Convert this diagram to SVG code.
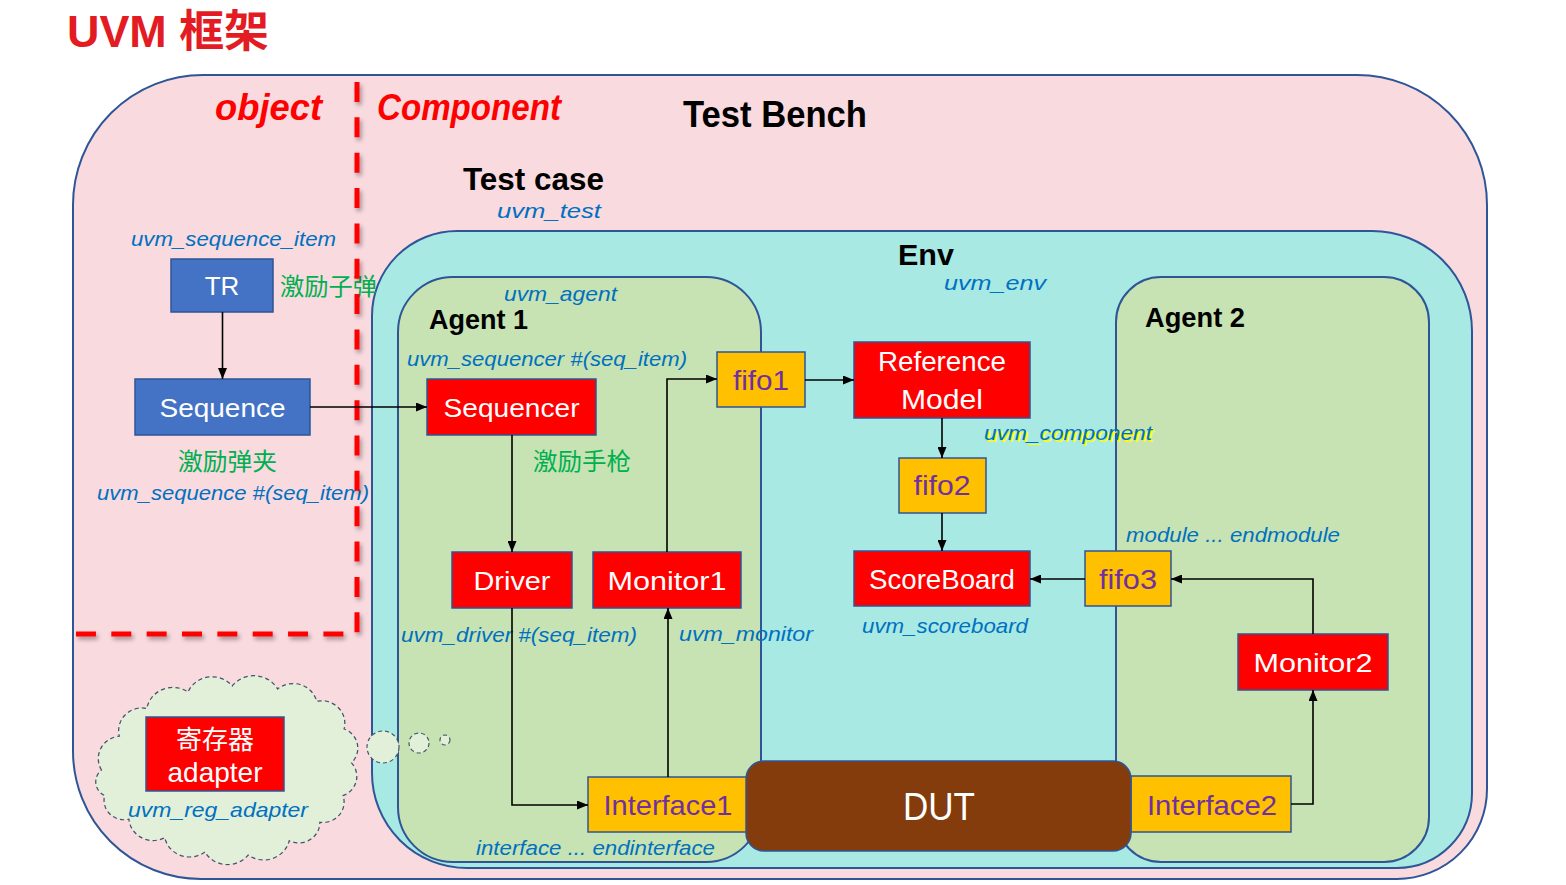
<svg xmlns="http://www.w3.org/2000/svg" width="1566" height="885" viewBox="0 0 1566 885">
<defs>
<style>
text{font-family:"Liberation Sans","Noto Sans CJK SC",sans-serif;}
.w{fill:#fff;font-size:26px;text-anchor:middle}
.p{fill:#7030A0;font-size:28px;text-anchor:middle}
.it{fill:#0070C0;font-style:italic;font-size:21px}
.g{fill:#00B050;font-size:24px}
.hd{font-weight:bold;fill:#000}
.rd{fill:#FF0000;stroke:#2F5597;stroke-width:1.5}
.bl{fill:#4472C4;stroke:#2F5597;stroke-width:1.5}
.ye{fill:#FFC000;stroke:#2F5597;stroke-width:1.5}
.cont{stroke:#2F5597;stroke-width:2}
.cl{fill:#E2F0D9;stroke:#44546A;stroke-width:1.2;stroke-dasharray:4 3}
#connectors path{fill:none;stroke:#000;stroke-width:1.6;marker-end:url(#arr)}
</style>
<marker id="arr" markerUnits="userSpaceOnUse" markerWidth="11" markerHeight="9" refX="11" refY="4.5" orient="auto">
<path d="M0,0 L11,4.5 L0,9 Z" fill="#000"/>
</marker>
<filter id="sh" x="-10%" y="-10%" width="120%" height="120%">
<feDropShadow dx="2" dy="3" stdDeviation="2" flood-color="#000" flood-opacity="0.35"/>
</filter>
</defs>
<rect width="1566" height="885" fill="#fff"/>
<text x="67" y="47" font-size="44" font-weight="bold" fill="#E31B23" textLength="202" lengthAdjust="spacingAndGlyphs">UVM 框架</text>

<g id="testbench">
<path class="cont" fill="#F8DADF" d="M203,75 H1357 A130,130 0 0 1 1487,205 V789 A90,90 0 0 1 1397,879 H201 A128,128 0 0 1 73,751 V205 A130,130 0 0 1 203,75 Z"/>
<text class="hd" x="683" y="127" font-size="37" textLength="184" lengthAdjust="spacingAndGlyphs">Test Bench</text>
<text x="215" y="120" font-size="36" font-weight="bold" font-style="italic" fill="#FF0000" textLength="107" lengthAdjust="spacingAndGlyphs">object</text>
<text x="377" y="120" font-size="36" font-weight="bold" font-style="italic" fill="#FF0000" textLength="184" lengthAdjust="spacingAndGlyphs">Component</text>
<text class="hd" x="463" y="190" font-size="32" textLength="141" lengthAdjust="spacingAndGlyphs">Test case</text>
<text class="it" x="497" y="218" font-size="24" textLength="104" lengthAdjust="spacingAndGlyphs">uvm_test</text>
</g>

<g id="env">
<path class="cont" fill="#A8E9E4" d="M457,231 H1372 A100,100 0 0 1 1472,331 V793 A75,75 0 0 1 1397,868 H467 A95,95 0 0 1 372,773 V316 A85,85 0 0 1 457,231 Z"/>
<text class="hd" x="898" y="265" font-size="30" textLength="56" lengthAdjust="spacingAndGlyphs">Env</text>
<text class="it" x="944" y="290" font-size="24" textLength="102" lengthAdjust="spacingAndGlyphs">uvm_env</text>
</g>

<g id="agent1">
<rect class="cont" fill="#C7E3B3" x="398" y="277" width="363" height="585" rx="55"/>
<text class="it" x="504" y="301" textLength="113" lengthAdjust="spacingAndGlyphs">uvm_agent</text>
<text class="hd" x="429" y="329" font-size="27" textLength="99" lengthAdjust="spacingAndGlyphs">Agent 1</text>
<text class="it" x="407" y="366" textLength="280" lengthAdjust="spacingAndGlyphs">uvm_sequencer #(seq_item)</text>
<text class="it" x="401" y="642" textLength="236" lengthAdjust="spacingAndGlyphs">uvm_driver #(seq_item)</text>
<text class="it" x="679" y="641" textLength="134" lengthAdjust="spacingAndGlyphs">uvm_monitor</text>
<text class="it" x="476" y="855" textLength="239" lengthAdjust="spacingAndGlyphs">interface ... endinterface</text>
<text class="g" x="533" y="470" textLength="98" lengthAdjust="spacingAndGlyphs">激励手枪</text>
</g>

<g id="agent2">
<rect class="cont" fill="#C7E3B3" x="1116" y="277" width="313" height="585" rx="45"/>
<text class="hd" x="1145" y="327" font-size="27" textLength="100" lengthAdjust="spacingAndGlyphs">Agent 2</text>
<text class="it" x="1126" y="542" textLength="214" lengthAdjust="spacingAndGlyphs">module ... endmodule</text>
</g>

<g id="labels">
<text class="it" x="986" y="442" font-size="22" style="fill:#FFFF00" textLength="168" lengthAdjust="spacingAndGlyphs">uvm_component</text>
<text class="it" x="984" y="440" font-size="22" textLength="168" lengthAdjust="spacingAndGlyphs">uvm_component</text>
<text class="it" x="862" y="633" font-size="22" textLength="166" lengthAdjust="spacingAndGlyphs">uvm_scoreboard</text>
<text class="it" x="131" y="246" font-size="22" textLength="205" lengthAdjust="spacingAndGlyphs">uvm_sequence_item</text>
<text class="g" x="280" y="295" textLength="97" lengthAdjust="spacingAndGlyphs">激励子弹</text>
<text class="g" x="178" y="470" textLength="99" lengthAdjust="spacingAndGlyphs">激励弹夹</text>
<text class="it" x="97" y="500" textLength="272" lengthAdjust="spacingAndGlyphs">uvm_sequence #(seq_item)</text>
</g>

<g id="adapter">
<path class="cl" transform="translate(227,771) scale(1.055,1.025) translate(-227,-771)" d="M108,770 A22,22 0 0 1 125,737 A22,22 0 0 1 151,710 A25,25 0 0 1 190,694 A25,25 0 0 1 232,688 A26,26 0 0 1 275,691 A23,23 0 0 1 312,703 A22,22 0 0 1 338,730 A20,20 0 0 1 345,763 A20,20 0 0 1 337,795 A20,20 0 0 1 315,821 A20,20 0 0 1 286,839 A25,25 0 0 1 247,853 A25,25 0 0 1 206,850 A24,24 0 0 1 168,836 A23,23 0 0 1 134,818 A19,19 0 0 1 111,795 A15,15 0 0 1 108,770 Z"/>
<circle class="cl" cx="383" cy="747" r="16"/>
<circle class="cl" cx="419" cy="743" r="10"/>
<circle class="cl" cx="445" cy="740" r="5"/>
<rect class="rd" x="146" y="717" width="138" height="74"/>
<text class="w" x="215" y="749">寄存器</text>
<text class="w" x="215" y="782" style="font-size:28px">adapter</text>
<text class="it" x="128" y="817" font-size="22" textLength="180" lengthAdjust="spacingAndGlyphs">uvm_reg_adapter</text>
</g>

<g id="divider">
<path d="M357,82 V634 H76" fill="none" stroke="#FF0000" stroke-width="5" stroke-dasharray="20 15.35" filter="url(#sh)"/>
</g>

<g id="tr"><rect class="bl" x="171" y="259" width="102" height="53"/><text class="w" x="222" y="295">TR</text></g>
<g id="sequence"><rect class="bl" x="135" y="379" width="175" height="56"/><text class="w" x="222.5" y="417" textLength="126" lengthAdjust="spacingAndGlyphs">Sequence</text></g>
<g id="sequencer"><rect class="rd" x="427" y="379" width="169" height="56"/><text class="w" x="511.5" y="417" textLength="136" lengthAdjust="spacingAndGlyphs">Sequencer</text></g>
<g id="driver"><rect class="rd" x="452" y="552" width="120" height="56"/><text class="w" x="512" y="590" textLength="77" lengthAdjust="spacingAndGlyphs">Driver</text></g>
<g id="monitor1"><rect class="rd" x="593" y="552" width="148" height="56"/><text class="w" x="667" y="590" textLength="119" lengthAdjust="spacingAndGlyphs">Monitor1</text></g>
<g id="fifo1"><rect class="ye" x="717" y="352" width="88" height="55"/><text class="p" x="761" y="390" textLength="56" lengthAdjust="spacingAndGlyphs">fifo1</text></g>
<g id="refmodel"><rect class="rd" x="854" y="342" width="176" height="76"/><text class="w" x="942" y="371" style="font-size:28px" textLength="128" lengthAdjust="spacingAndGlyphs">Reference</text><text class="w" x="942" y="409" style="font-size:28px" textLength="82" lengthAdjust="spacingAndGlyphs">Model</text></g>
<g id="fifo2"><rect class="ye" x="899" y="458" width="87" height="55"/><text class="p" x="942" y="495" textLength="57" lengthAdjust="spacingAndGlyphs">fifo2</text></g>
<g id="scoreboard"><rect class="rd" x="854" y="551" width="176" height="55"/><text class="w" x="942" y="589" style="font-size:27px" textLength="146" lengthAdjust="spacingAndGlyphs">ScoreBoard</text></g>
<g id="fifo3"><rect class="ye" x="1085" y="551" width="86" height="55"/><text class="p" x="1128" y="589" textLength="58" lengthAdjust="spacingAndGlyphs">fifo3</text></g>
<g id="monitor2"><rect class="rd" x="1238" y="634" width="150" height="56"/><text class="w" x="1313" y="672" textLength="119" lengthAdjust="spacingAndGlyphs">Monitor2</text></g>
<g id="interface1"><rect class="ye" x="588" y="777" width="160" height="55"/><text class="p" x="668" y="815" textLength="129" lengthAdjust="spacingAndGlyphs">Interface1</text></g>
<g id="interface2"><rect class="ye" x="1131" y="776" width="160" height="56"/><text class="p" x="1212" y="815" textLength="130" lengthAdjust="spacingAndGlyphs">Interface2</text></g>
<g id="dut"><rect x="746" y="761" width="385" height="90" rx="18" fill="#843C0C" stroke="#2F5597" stroke-width="1.5"/><text class="w" x="939" y="820" style="font-size:38px" textLength="72" lengthAdjust="spacingAndGlyphs">DUT</text></g>

<g id="connectors">
<path d="M222.5,312 V379"/>
<path d="M310,407 H427"/>
<path d="M512,435 V552"/>
<path d="M512,608 V805 H588"/>
<path d="M668,777 V608"/>
<path d="M667,552 V379 H717"/>
<path d="M805,380 H854"/>
<path d="M942,418 V458"/>
<path d="M942,513 V551"/>
<path d="M1085,579 H1030"/>
<path d="M1313,634 V579 H1171"/>
<path d="M1291,804 H1313 V690"/>
</g>
</svg>
